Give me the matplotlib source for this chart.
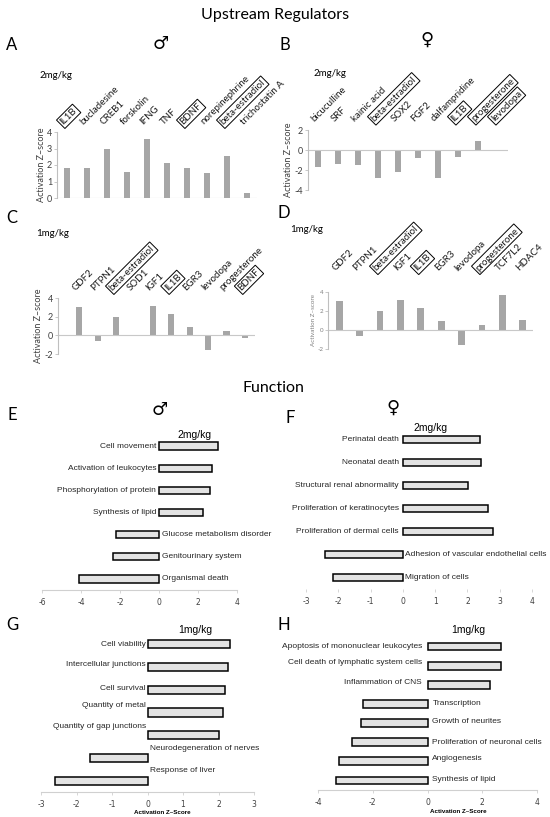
import matplotlib
matplotlib.use('Agg')
import matplotlib.pyplot as plt
import numpy as np

plt.rcParams['axes.unicode_minus'] = False

# ---- upstream regulators (activation z-scores) ----
a_names = ['IL1B', 'bucladesine', 'CREB1', 'forskolin', 'IFNG', 'TNF', 'BDNF',
           'norepinephrine', 'beta-estradiol', 'trichostatin A']
a_values = [1.8, 1.8, 3.0, 1.55, 3.6, 2.15, 1.8, 1.5, 2.55, 0.3]
a_boxed = ['IL1B', 'BDNF', 'beta-estradiol']

b_names = ['bicuculline', 'SRF', 'kainic acid', 'beta-estradiol', 'SOX2', 'FGF2',
           'dalfampridine', 'IL1B', 'progesterone', 'levodopa']
b_values = [-1.7, -1.4, -1.45, -2.75, -2.2, -0.8, -2.8, -0.7, 0.9, 0.0]
b_boxed = ['beta-estradiol', 'IL1B', 'progesterone', 'levodopa']

c_names = ['GDF2', 'PTPN1', 'beta-estradiol', 'SOD1', 'IGF1', 'IL1B', 'EGR3',
           'levodopa', 'progesterone', 'BDNF']
c_values = [3.05, -0.65, 1.95, 0.0, 3.1, 2.3, 0.9, -1.6, 0.5, -0.3]
c_boxed = ['beta-estradiol', 'IL1B', 'BDNF']

d_names = ['GDF2', 'PTPN1', 'beta-estradiol', 'IGF1', 'IL1B', 'EGR3', 'levodopa',
           'progesterone', 'TCF7L2', 'HDAC4']
d_values = [3.1, -0.6, 1.95, 3.15, 2.35, 0.9, -1.6, 0.5, 3.7, 1.1]
d_boxed = ['beta-estradiol', 'IL1B', 'progesterone']

# ---- functions (activation z-scores) ----
e_names = ['Cell movement', 'Activation of leukocytes', 'Phosphorylation of protein',
           'Synthesis of lipid', 'Glucose metabolism disorder', 'Genitourinary system',
           'Organismal death']
e_values = [3.03, 2.72, 2.64, 2.25, -2.21, -2.38, -4.09]

f_names = ['Perinatal death', 'Neonatal death', 'Structural renal abnormality',
           'Proliferation of keratinocytes', 'Proliferation of dermal cells',
           'Adhesion of vascular endothelial cells', 'Migration of cells']
f_values = [2.39, 2.42, 2.01, 2.63, 2.8, -2.4, -2.16]

g_names = ['Cell viability', 'Intercellular junctions', 'Cell survival', 'Quantity of metal',
           'Quantity of gap junctions', 'Neurodegeneration of nerves', 'Response of liver']
g_values = [2.32, 2.26, 2.18, 2.12, 2.02, -1.63, -2.61]

h_names = ['Apoptosis of mononuclear leukocytes', 'Cell death of lymphatic system cells',
           'Inflammation of CNS', 'Transcription', 'Growth of neurites',
           'Proliferation of neuronal cells', 'Angiogenesis', 'Synthesis of lipid']
h_values = [2.7, 2.67, 2.27, -2.34, -2.44, -2.77, -3.23, -3.34]

W, H = 550, 817
fig = plt.figure(figsize=(W / 100, H / 100), dpi=100)

HEAD = 'Lato'
BODY = 'Liberation Sans'


def px_axes(left, top, right, bottom):
    #axes placed with pixel coords of the reference
    return fig.add_axes([left / W, 1 - bottom / H, (right - left) / W, (bottom - top) / H])


def px_text(x, y, s, **kw):
    fig.text(x / W, 1 - y / H, s, **kw)


def regulators(ax, names, values, boxed, xlim, ylim, yticks, label_dy, tick_fs=6.5, tick_col='#404040'):
    x = np.arange(len(names))
    ax.bar(x, values, width=0.33, color='#a6a6a6')
    ax.axhline(0, color='#c8c8c8', lw=0.8)
    ax.set_xlim(*xlim)
    ax.set_ylim(*ylim)
    ax.set_xticks([])
    ax.set_yticks(yticks)
    ax.tick_params(axis='y', length=2.5, width=0.6, color='#bfbfbf', pad=1,
                   labelsize=tick_fs, labelcolor=tick_col)
    for lab in ax.get_yticklabels():
        lab.set_family(HEAD)
    for s in ['top', 'right', 'bottom']:
        ax.spines[s].set_visible(False)
    ax.spines['left'].set_color('#bfbfbf')
    ax.spines['left'].set_linewidth(0.8)
    ax.set_facecolor('none')
    ax.set_ylabel('Activation Z\u2013score', fontsize=tick_fs, color=tick_col, labelpad=1, family=HEAD)
    for i, name in enumerate(names):
        kw = {}
        if name in boxed:
            kw['bbox'] = dict(boxstyle='square,pad=0.15', fc='none', ec='black', lw=0.7)
        ax.annotate(name, xy=(i, 1), xycoords=('data', 'axes fraction'),
                    xytext=(-1.5, label_dy), textcoords='offset points',
                    rotation=45, rotation_mode='anchor', ha='left', va='bottom',
                    fontsize=7, family=HEAD, color='#1a1a1a', **kw)


def functions(ax, names, values, xlim, xticks, height, label_dy=None, pad_pos=2, pad_neg=2.5,
              axis_line=True):
    y = np.arange(len(names))
    ax.barh(y, values, height=height, color='#e3e3e3', edgecolor='black', linewidth=1.1)
    ax.set_xlim(*xlim)
    ax.set_ylim(len(names) - 0.5, -0.5)
    ax.set_yticks([])
    ax.set_xticks(xticks)
    ax.tick_params(axis='x', length=2.5, width=0.6, color='#d0d0d0', pad=3,
                   labelsize=5.5, labelcolor='#404040')
    for s in ['top', 'right', 'left']:
        ax.spines[s].set_visible(False)
    ax.spines['bottom'].set_color('#d0d0d0')
    ax.spines['bottom'].set_visible(axis_line)
    ax.set_facecolor('none')
    if label_dy is None:
        label_dy = [0] * len(names)
    for i, (name, v) in enumerate(zip(names, values)):
        if v >= 0:
            ax.annotate(name, xy=(0, i), xytext=(-pad_pos, label_dy[i]), textcoords='offset points',
                        ha='right', va='center', fontsize=6, family=BODY, color='#262626')
        else:
            ax.annotate(name, xy=(0, i), xytext=(pad_neg, label_dy[i]), textcoords='offset points',
                        ha='left', va='center', fontsize=6, family=BODY, color='#262626')


# titles and panel letters
px_text(275, 15, 'Upstream Regulators', ha='center', va='center', fontsize=11.5, family=HEAD)
px_text(273, 388, 'Function', ha='center', va='center', fontsize=11.5, family=HEAD)
for lab, x, y in [('A', 12, 45), ('B', 285, 45), ('C', 12, 218), ('D', 284, 213),
                  ('E', 12, 415), ('F', 290, 418), ('G', 12, 625), ('H', 284, 625)]:
    px_text(x, y, lab, ha='center', va='center', fontsize=12, family=HEAD)
for sym, x, y in [('\u2642', 161, 44), ('\u2640', 427, 40), ('\u2642', 160, 410), ('\u2640', 393, 408)]:
    px_text(x, y, sym, ha='center', va='center', fontsize=13, family='DejaVu Sans', weight='bold')

px_text(40, 75, '2mg/kg', ha='left', va='center', fontsize=7, family=HEAD)
px_text(313, 73, '2mg/kg', ha='left', va='center', fontsize=7, family=HEAD)
px_text(36, 233, '1mg/kg', ha='left', va='center', fontsize=7, family=HEAD)
px_text(290, 229, '1mg/kg', ha='left', va='center', fontsize=7, family=HEAD)
px_text(195, 435, '2mg/kg', ha='center', va='center', fontsize=7.5, family=BODY)
px_text(430, 428, '2mg/kg', ha='center', va='center', fontsize=7.5, family=BODY)
px_text(195, 630, '1mg/kg', ha='center', va='center', fontsize=7.5, family=BODY)
px_text(468, 630, '1mg/kg', ha='center', va='center', fontsize=7.5, family=BODY)

# upstream regulators panels
ax_a = px_axes(57, 132, 257, 198)
regulators(ax_a, a_names, a_values, a_boxed, (-0.5, 9.5), (0, 4), [0, 1, 2, 3, 4], 4)
ax_b = px_axes(308, 130, 508, 190)
regulators(ax_b, b_names, b_values, b_boxed, (-0.5, 9.5), (-4, 2), [-4, -2, 0, 2], 5)
ax_c = px_axes(58, 298, 255, 354)
regulators(ax_c, c_names, c_values, c_boxed, (-1.15, 9.55), (-2, 4), [-2, 0, 2, 4], 4)
ax_d = px_axes(328, 292, 533, 349)
regulators(ax_d, d_names, d_values, d_boxed, (-0.55, 9.5), (-2, 4), [-2, 0, 2, 4], 14,
           tick_fs=4.5, tick_col='#808080')

# function panels
ax_e = px_axes(42, 435, 237, 590)
functions(ax_e, e_names, e_values, (-6, 4), [-6, -4, -2, 0, 2, 4], 0.33)
ax_f = px_axes(306, 428, 532, 589)
functions(ax_f, f_names, f_values, (-3, 4), [-3, -2, -1, 0, 1, 2, 3, 4], 0.32,
          pad_pos=3, pad_neg=1.5, axis_line=False)
ax_g = px_axes(41, 633, 254, 792)
functions(ax_g, g_names, g_values, (-3, 3), [-3, -2, -1, 0, 1, 2, 3], 0.36,
          label_dy=[0, 2, 1, 5, 6, 7, 7], pad_pos=1, pad_neg=1.5)
ax_g.set_xlabel('Activation Z\u2013Score', fontsize=4.5, weight='bold', family=BODY)
ax_g.xaxis.set_label_coords(0.57, -0.115)
ax_h = px_axes(318, 637, 537, 790)
functions(ax_h, h_names, h_values, (-4, 4), [-4, -2, 0, 2, 4], 0.4,
          label_dy=[0, 2, 2, 0, 1, 0, 2, 1], pad_pos=4, pad_neg=3.5)
ax_h.set_xlabel('Activation Z\u2013Score', fontsize=4.5, weight='bold', family=BODY)
ax_h.xaxis.set_label_coords(0.64, -0.125)

fig.savefig('out.png', dpi=100)
